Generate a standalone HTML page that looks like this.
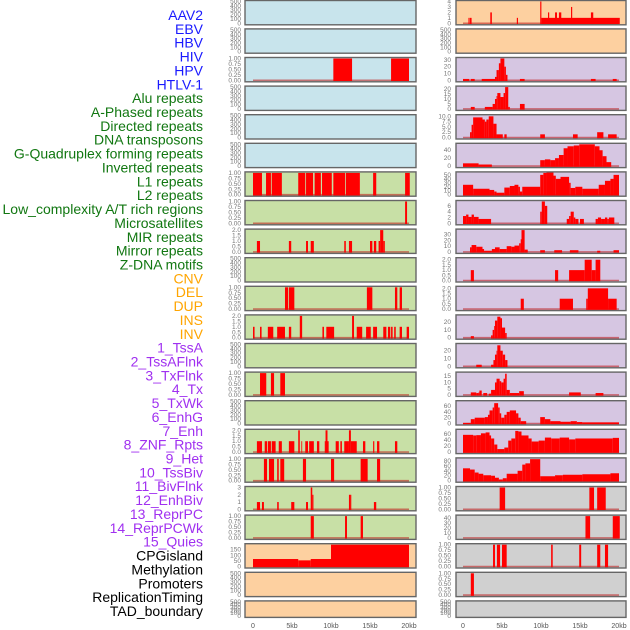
<!DOCTYPE html>
<html><head><meta charset="utf-8">
<style>
html,body{margin:0;padding:0;background:#fff;}
svg{display:block;font-family:"Liberation Sans",sans-serif;}
</style></head>
<body>
<svg id="chart" width="630" height="630" viewBox="0 0 630 630" xmlns="http://www.w3.org/2000/svg">
<g id="labels" font-size="14" text-anchor="end"></g>
<g id="panels"></g>
<g id="xaxis" font-size="7" fill="#555" text-anchor="middle"></g>
</svg>
<script>
const featureNames = ["AAV2","EBV","HBV","HIV","HPV","HTLV-1","Alu repeats","A-Phased repeats","Directed repeats","DNA transposons","G-Quadruplex forming repeats","Inverted repeats","L1 repeats","L2 repeats","Low_complexity A/T rich regions","Microsatellites","MIR repeats","Mirror repeats","Z-DNA motifs","CNV","DEL","DUP","INS","INV","1_TssA","2_TssAFlnk","3_TxFlnk","4_Tx","5_TxWk","6_EnhG","7_Enh","8_ZNF_Rpts","9_Het","10_TssBiv","11_BivFlnk","12_EnhBiv","13_ReprPC","14_ReprPCWk","15_Quies","CPGisland","Methylation","Promoters","ReplicationTiming","TAD_boundary"];
const featureGroups = [0,0,0,0,0,0,1,1,1,1,1,1,1,1,1,1,1,1,1,2,2,2,2,2,3,3,3,3,3,3,3,3,3,3,3,3,3,3,3,4,4,4,4,4];
const xTickValues = [0,5,10,15,20];
const xTickLabels = ["0","5kb","10kb","15kb","20kb"];

const E=[0,100,200,300,400,500], U=[0,0.25,0.5,0.75,1], T=[0,0.5,1,1.5,2];
const leftTicks = [E,E,U,E,E,E,U,U,T,E,U,T,E,U,E,T,U,[0,1,2,3],U,[0,50,100,150],E,E];
const leftMax = [500,500,1,500,500,500,1,1,2,500,1,2,500,1,500,2,1,3,1,195,500,500];
const leftBars = [
 [],[],
 [[10.3,12.7,1],[17.7,20,1]],
 [],[],[],
 [[0,1.15,1],[1.67,2.3,1],[2.4,3.7,1],[5.8,6.7,1],[6.8,7.7,1],[7.9,8.7,1],[8.85,10.1,1],[10.3,11.8,1],[11.9,13.7,1],[15.4,15.8,1],[19.5,20.1,1]],
 [[19.5,19.75,1]],
 [[0.5,0.9,1],[4.6,4.9,1],[6.8,7.05,1],[7.4,7.8,1],[11.7,11.9,1],[12.3,12.7,1],[15.0,15.3,1],[15.5,15.8,1],[16.1,16.3,1],[16.3,16.7,2],[16.7,16.9,1]],
 [],
 [[4.1,4.5,1],[4.6,5.3,1],[14.6,15.3,1],[18.2,18.5,1],[18.8,19.1,1]],
 [[0,0.2,1],[0.9,1.1,1],[1.9,2.6,1],[3.1,4.1,1],[4.6,4.9,1],[6.0,6.3,2],[8.9,9.1,1],[9.4,10.4,1],[12.7,12.95,2],[13.3,14.0,1],[14.5,15.1,1],[15.4,15.9,1],[16.7,17.1,1],[17.3,17.6,1],[17.7,17.9,1],[18.1,18.3,1],[18.8,19.1,1],[19.7,20,1]],
 [],
 [[0.9,1.7,1],[2.3,2.7,1],[3.5,4.1,1]],
 [],
 [[0.5,1.15,1],[1.5,1.8,1],[1.9,2.3,1],[2.4,2.9,1],[3.3,3.7,1],[4.6,5.3,1],[5.8,6.0,2],[6.2,6.3,1],[6.7,7.05,1],[7.2,7.8,1],[8.2,8.5,1],[9.2,9.3,1],[9.3,9.55,2],[9.55,9.7,1],[10.6,11.0,1],[11.2,11.4,1],[11.7,12.3,1],[12.3,12.55,2],[12.55,13.3,1],[14.1,14.4,1],[15.4,15.55,1],[15.9,16.2,1],[18.2,18.5,1]],
 [[1.4,1.8,1],[2.05,2.7,1],[3.1,3.3,1],[3.5,4.0,1],[6.4,6.8,1],[10.0,10.4,1],[13.8,14.7,1],[15.9,16.3,1]],
 [[0.5,0.9,1],[1.15,1.4,1],[3.1,3.3,1],[4.9,5.3,1],[6.8,7.05,1],[7.4,7.6,3],[7.6,7.75,2],[12.3,12.45,2],[12.45,12.6,2],[15.5,15.8,1]],
 [[7.4,7.8,1],[11.8,12.05,1],[13.8,14.1,1]],
 [[0,5.8,67],[5.8,7.4,55],[7.4,10,67],[10,20,195]],
 [],[]
];

const rightTicks = [[0,1,2,3,4],E,[0,10,20,30],[0,5,10,15,20],[0,2.5,5,7.5,10],[0,20,40],[0,10,20,30,40,50],[0,2,4,6],[0,10,20,30],T,T,[0,10,20],[0,10,20],[0,5,10,15],[0,20,40,60],[0,20,40,60],[0,20,40,60,80],U,[0,10,20,30,40],U,U,E];
const rightMax = [4,500,32,22,10.3,55,55,7.5,38,2.1,2.1,28,28,17.5,75,72,88,1,44,1,1,500];
const rightBars = [
 [[0.7,0.85,1],[0.9,1.1,1],[3.5,3.7,2],[6.9,7.05,1],[9.9,10.05,4],[10.05,20.1,1],[10.9,11.05,2],[11.8,12.05,2],[12.3,12.6,2],[13.85,14.0,3],[16.4,16.7,2]],
 [],
 [[0,0.8,2],[1.0,1.5,2],[2.4,4.1,2],[4.1,4.3,5],[4.3,4.6,15],[4.6,4.8,25],[4.8,5.3,32],[5.3,5.5,20],[5.5,5.7,8],[7.3,7.9,2],[16.4,17.0,2],[19.2,19.7,2]],
 [[1.0,1.5,2],[2.8,3.8,2],[3.8,4.1,5],[4.1,4.3,10],[4.3,4.4,13],[4.4,4.8,16],[4.8,5.2,12],[5.2,5.4,16],[5.4,5.8,22],[5.8,6.0,2],[7.3,7.9,5]],
 [[0.9,1.1,2.5],[1.1,1.3,6],[1.3,2.5,9.5],[2.5,2.8,8.5],[2.8,3.0,7.5],[3.0,3.3,8.5],[3.3,3.9,10],[3.9,4.3,6.5],[4.3,5.1,1.5],[5.3,5.6,1.5],[9.9,10.5,1.5],[14.1,14.7,1.5],[17.2,18.0,2.5],[18.6,19.7,1.5]],
 [[0,2.0,7],[2.0,3.7,4],[9.9,10.5,15],[10.5,11.2,17],[11.2,11.8,15],[11.8,12.3,20],[12.3,12.9,28],[12.9,13.4,45],[13.4,14.2,50],[14.2,14.9,52],[14.9,16.9,55],[16.9,17.5,50],[17.5,17.9,40],[17.9,18.4,25],[18.4,19.0,10]],
 [[0,1.3,25],[1.3,3.4,15],[3.4,4.0,12],[4.0,4.3,8],[4.3,5.3,5],[5.3,6.0,18],[6.0,6.6,22],[6.6,7.1,25],[7.1,7.3,20],[7.3,7.6,8],[7.6,9.9,20],[9.9,10.3,50],[10.3,10.7,55],[10.7,11.6,58],[11.6,11.9,48],[11.9,12.5,40],[12.5,13.6,45],[13.6,13.8,30],[13.8,14.4,17],[14.4,15.3,20],[15.3,17.4,15],[17.4,18.2,25],[18.2,18.9,35],[18.9,19.3,40],[19.3,20,50]],
 [[0,0.4,2.5],[0.4,0.7,3],[0.7,1.1,2.2],[1.1,1.4,3],[1.4,2.0,2.2],[2.0,3.6,1.5],[9.9,10.1,4],[10.1,10.5,7.5],[10.5,10.8,6],[13.3,13.6,1.5],[13.6,13.8,2.5],[13.8,14.2,4],[14.2,14.4,2],[14.4,14.8,1.5],[15.0,15.5,1.5],[17.0,17.3,1.5],[17.3,17.7,2],[17.7,18.2,1.5],[18.2,18.5,2],[18.5,18.7,1.5],[18.7,19.4,2]],
 [[0.9,1.1,8],[1.1,1.7,12],[1.7,2.5,9],[2.5,2.7,5],[2.7,3.7,2],[3.7,4.1,5],[4.1,4.7,8],[4.7,5.6,5],[5.6,6.2,10],[6.2,6.6,9],[6.6,7.2,11],[7.2,7.4,15],[7.4,7.5,22],[7.5,7.9,38],[7.9,8.3,4],[9.9,10.5,3],[11.7,12.7,3],[13.7,14.8,3],[17.2,17.6,2],[19.3,20,3]],
 [[1.0,1.4,1],[11.8,12.2,1],[13.6,15.6,1],[15.6,16.5,2],[16.5,17.0,1],[17.0,17.6,2]],
 [[7.4,7.8,1],[12.4,14.1,1],[15.8,16.0,1],[16.0,18.6,2],[18.6,19.7,1]],
 [[1.0,1.4,2],[3.6,3.8,3],[3.8,4.0,10],[4.0,4.1,15],[4.1,4.4,22],[4.4,4.8,27],[4.8,5.0,25],[5.0,5.4,13],[5.4,5.6,6]],
 [[1.7,2.4,2],[3.6,3.9,2],[3.9,4.1,8],[4.1,4.3,15],[4.3,4.4,20],[4.4,4.8,27],[4.8,5.1,20],[5.1,5.4,15],[5.4,5.7,8]],
 [[1.0,1.7,2],[1.7,2.0,1.5],[2.0,2.1,2],[2.1,2.4,3.5],[2.6,3.1,1.5],[3.3,3.6,1],[3.6,4.1,4],[4.1,4.3,10],[4.3,4.7,13],[4.7,4.9,11],[4.9,5.2,10],[5.2,5.4,13],[5.4,5.6,17],[5.6,6.0,4],[6.0,7.2,1.5],[7.2,7.8,3],[13.6,15.1,2],[17.0,18.0,1.5]],
 [[0,1.0,2],[1.0,1.5,15],[1.5,2.8,20],[2.8,3.2,22],[3.2,3.4,30],[3.4,3.8,45],[3.8,4.0,55],[4.0,4.5,70],[4.5,4.7,55],[4.7,4.9,35],[4.9,5.3,20],[5.3,5.6,30],[5.6,6.0,40],[6.0,6.8,45],[6.8,7.1,35],[7.1,7.4,20],[7.4,8.1,8],[9.9,10.5,22],[10.5,11.2,15],[11.2,12.5,8],[12.5,13.8,6],[13.8,14.6,8],[14.6,15.3,5],[15.3,20,4]],
 [[0,1.3,57],[1.3,1.7,55],[1.7,2.3,56],[2.3,2.9,62],[2.9,3.4,65],[3.4,3.6,55],[3.6,4.0,45],[4.0,4.4,25],[4.4,5.3,10],[5.3,5.8,15],[5.8,6.2,38],[6.2,6.7,45],[6.7,7.1,70],[7.1,7.5,68],[7.5,8.4,55],[8.4,8.8,45],[8.8,9.7,35],[9.7,10.5,38],[10.5,11.3,48],[11.3,12.4,45],[12.4,13.6,48],[13.6,14.4,42],[14.4,19.2,45],[19.2,20,47]],
 [[0,0.9,50],[0.9,1.5,45],[1.5,2.0,33],[2.0,2.6,28],[2.6,3.6,22],[3.6,4.1,20],[4.1,4.6,12],[4.6,5.1,5],[5.1,5.6,10],[5.6,7.0,28],[7.0,7.6,40],[7.6,8.0,65],[8.0,8.6,70],[8.6,9.9,87],[9.9,11.8,18],[11.8,12.8,22],[12.8,15.3,24],[15.3,18.9,26],[18.9,20,30]],
 [[4.7,5.4,1],[16.2,16.8,1],[17.2,18.3,1]],
 [[15.7,16.3,44],[19.2,20.1,44]],
 [[3.85,4.1,1],[4.35,4.75,1],[5.0,5.6,1],[11.3,11.5,1],[14.9,15.15,1],[17.2,17.6,1],[18.2,18.6,1]],
 [[1.0,1.4,1]],
 []
];

const groupColors = ["#1a1aff","#117711","#ffa500","#a030f0","#000000"];
const leftBg = [0,0,0,0,0,0,1,1,1,1,1,1,1,1,1,1,1,1,1,2,2,2];
const rightBg = [2,2,3,3,3,3,3,3,3,3,3,3,3,3,3,3,3,4,4,4,4,4];
const bgColors = ["#c8e4ec","#c8e0a6","#fdd0a0","#d6c6e2","#d0d0d0"];

const NS="http://www.w3.org/2000/svg";
function mk(tag, attrs, parent){const e=document.createElementNS(NS,tag);for(const k in attrs)e.setAttribute(k,attrs[k]);parent.appendChild(e);return e;}

const labelsG=document.getElementById('labels');
featureNames.forEach((n,i)=>{
  const t=mk('text',{x:203,y:20+13.86*i,fill:groupColors[featureGroups[i]]},labelsG);
  
  
  t.textContent=n;
});

function fmtTick(v,ticks){
  const hasQuarter=ticks.some(x=>Math.abs(x*2-Math.round(x*2))>1e-9);
  const hasHalf=ticks.some(x=>x%1!==0);
  if(hasQuarter) return v.toFixed(2);
  if(hasHalf) return v.toFixed(1);
  return String(v);
}

const panelsG=document.getElementById('panels');
function rowTop(i){return i===0?0.5:28.6*i+0.3;}
function rowH(i){return i===21?16.5:24.3;}
function drawPanel(col,i,ticks,ymax,bars,bg){
  const bx=col===0?245:456, bw=col===0?171:170, x0=col===0?253:463, tx=col===0?241:451;
  const top=rowTop(i), h=rowH(i), y0=top+h-1.5, yt=top+1;
  const ys=v=>y0-(v/ymax)*(y0-yt);
  const xs=k=>x0+k*7.8;
  const g=mk('g',{},panelsG);
  
  
  const r=mk('rect',{x:bx,y:top,width:bw,height:h,fill:bgColors[bg]},g);
  
  
  if(bars.length){
    const bl=mk('line',{x1:xs(0),x2:xs(20),y1:y0,y2:y0,stroke:'rgba(190,20,20,0.55)','stroke-width':1.6},g);
    
    
  }
  bars.forEach(b=>{
    const y=ys(b[2]);
    const br=mk('rect',{x:xs(b[0]),y:y,width:Math.max(0.8,xs(b[1])-xs(b[0])),height:y0+0.8-y,fill:'#ff0000'},g);
    
    
  });
  mk('rect',{x:bx,y:top,width:bw,height:h,fill:'none',stroke:'#666','stroke-width':1.4},g);
  ticks.forEach(v=>{
    const t=mk('text',{x:tx,y:ys(v)+2,'font-size':6.5,fill:'#777','text-anchor':'end'},g);
    
    
    t.textContent=fmtTick(v,ticks);
  });
}
for(let i=0;i<22;i++){
  drawPanel(0,i,leftTicks[i],leftMax[i],leftBars[i],leftBg[i]);
  drawPanel(1,i,rightTicks[i],rightMax[i],rightBars[i],rightBg[i]);
}
const xg=document.getElementById('xaxis');
[253,463].forEach(x0=>{
  xTickValues.forEach((v,j)=>{
    const t=mk('text',{x:x0+v*7.8,y:628},xg);
    
    
    t.textContent=xTickLabels[j];
  });
});
</script>
</body></html>
